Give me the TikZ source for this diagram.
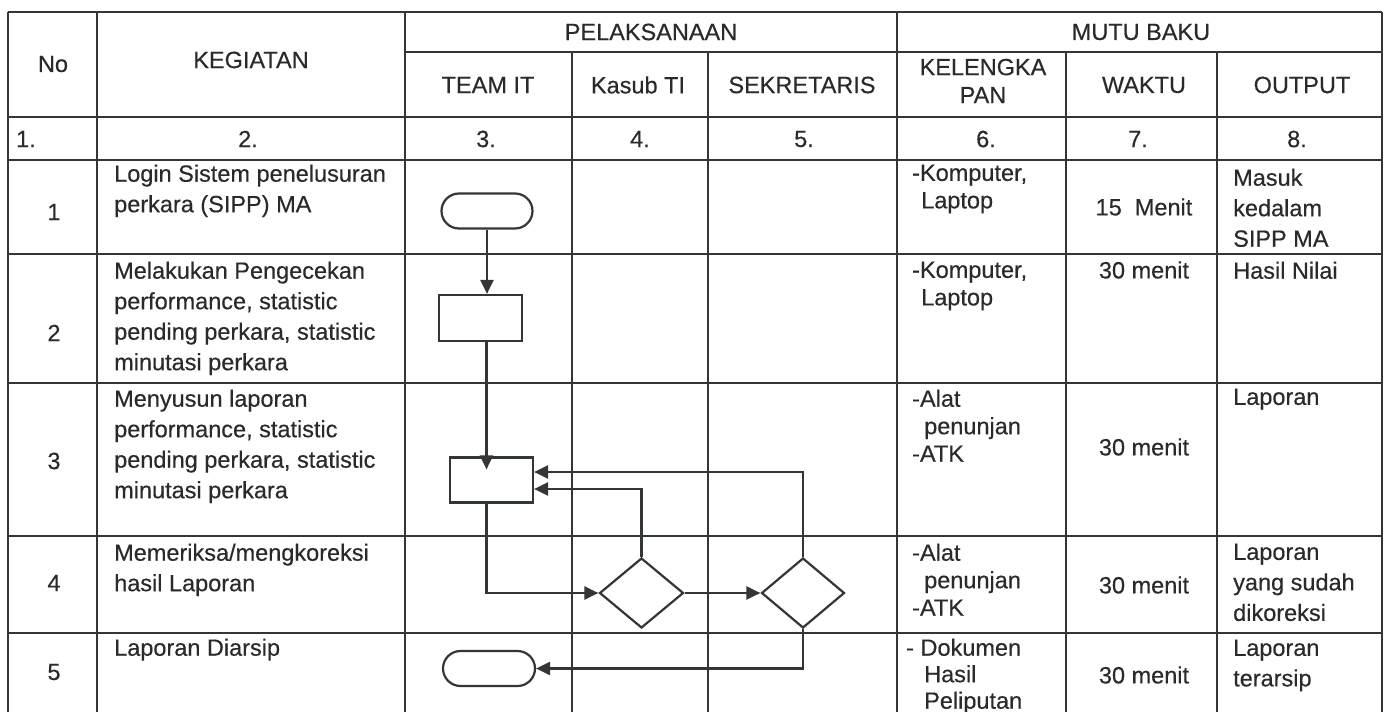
\documentclass[tikz,border=0pt]{standalone}
\usepackage{fontspec}
\setmainfont{Liberation Sans}[FakeBold=0.35]
\usetikzlibrary{arrows.meta,shapes.geometric,shapes.misc,calc}
\definecolor{ink}{HTML}{2A2A2A}
\definecolor{rulec}{HTML}{333733}
\tikzset{
  gridline/.style={draw=rulec, line width=2.2pt},
  fl/.style={draw=rulec, line width=2.2pt, fill=white, inner sep=0pt},
  arr/.style={draw=rulec, line width=2.2pt, -{Triangle[length=14pt,width=13pt]}},
  cell/.style={font=\fontsize{23.5}{30.5}\selectfont, text=ink, inner sep=0pt, anchor=north west, align=left},
  kel/.style={cell, font=\fontsize{23.5}{27.5}\selectfont},
  kelb/.style={cell, font=\fontsize{23.5}{26.5}\selectfont},
  ctr/.style={font=\fontsize{23.5}{28}\selectfont, text=ink, inner sep=0pt, align=center},
  term/.style={fl, rounded rectangle, minimum width=91pt, minimum height=35pt},
  proc/.style={fl, rectangle, minimum width=83pt, minimum height=45pt},
  deci/.style={fl, diamond, minimum width=84pt, minimum height=70pt},
}
\begin{document}
\begin{tikzpicture}[x=1pt,y=-1pt]
\useasboundingbox (0,0) rectangle (1385,712);
\fill[white] (0,0) rectangle (1385,712);

% table grid
\foreach \yy in {12,117,160,254,383,536,633}
  \draw[gridline] (8,\yy) -- (1382,\yy);
\draw[gridline] (405,52) -- (1382,52);
\foreach \xx in {8,97,405,897,1382}
  \draw[gridline] (\xx,12) -- (\xx,712);
\foreach \xx in {572,708,1066,1217}
  \draw[gridline] (\xx,52) -- (\xx,712);

% header
\node[ctr] (hno) at (53,64) {No};
\node[ctr] (hkeg) at (251,60) {KEGIATAN};
\node[ctr] (hpel) at (651,32) {PELAKSANAAN};
\node[ctr] (hmutu) at (1141,32) {MUTU BAKU};
\node[ctr] (hteam) at (488,85) {TEAM IT};
\node[ctr] (hkasub) at (638,85) {Kasub TI};
\node[ctr] (hsek) at (802,85) {SEKRETARIS};
\node[ctr] (hkel) at (983,81) {KELENGKA\\PAN};
\node[ctr] (hwak) at (1144,85) {WAKTU};
\node[ctr] (hout) at (1302,85) {OUTPUT};

% number row
\node[ctr] (n1) at (26,139) {1.};
\node[ctr] (n2) at (248,139) {2.};
\node[ctr] (n3) at (486,139) {3.};
\node[ctr] (n4) at (640,139) {4.};
\node[ctr] (n5) at (804,139) {5.};
\node[ctr] (n6) at (986,139) {6.};
\node[ctr] (n7) at (1138,139) {7.};
\node[ctr] (n8) at (1297,139) {8.};

% row numbers
\node[ctr] (r1) at (54,212) {1};
\node[ctr] (r2) at (54,333) {2};
\node[ctr] (r3) at (54,461) {3};
\node[ctr] (r4) at (54,583) {4};
\node[ctr] (r5) at (54,672) {5};

% kegiatan
\node[cell] (k1) at (114,164.5) {Login Sistem penelusuran\\perkara (SIPP) MA};
\node[cell] (k2) at (114,261.5) {Melakukan Pengecekan\\performance, statistic\\pending perkara, statistic\\minutasi perkara};
\node[cell] (k3) at (114,389.5) {Menyusun laporan\\performance, statistic\\pending perkara, statistic\\minutasi perkara};
\node[cell] (k4) at (114,543.5) {Memeriksa/mengkoreksi\\hasil Laporan};
\node[cell] (k5) at (114,638.5) {Laporan Diarsip};

% kelengkapan
\node[kel] (e1) at (912,164.5) {-Komputer,\\\hspace*{9pt}Laptop};
\node[kel] (e2) at (912,261.5) {-Komputer,\\\hspace*{9pt}Laptop};
\node[kel] (e3) at (912,389.5) {-Alat\\\hspace*{12pt}penunjan\\-ATK};
\node[kel] (e4) at (912,543.5) {-Alat\\\hspace*{12pt}penunjan\\-ATK};
\node[kelb] (e5) at (906,638.5) {- Dokumen\\\hspace*{18pt}Hasil\\\hspace*{18pt}Peliputan};

% waktu
\node[ctr] (w1) at (1144,207) {15~ Menit};
\node[ctr] (w2) at (1144,270) {30 menit};
\node[ctr] (w3) at (1144,447) {30 menit};
\node[ctr] (w4) at (1144,585) {30 menit};
\node[ctr] (w5) at (1144,675) {30 menit};

% output
\node[cell] (o1) at (1233,168.5) {Masuk\\kedalam\\SIPP MA};
\node[cell] (o2) at (1233,261.5) {Hasil Nilai};
\node[cell] (o3) at (1233,388.5) {Laporan};
\node[cell] (o4) at (1233,543.5) {Laporan\\yang sudah\\dikoreksi};
\node[cell] (o5) at (1233,639.5) {Laporan\\terarsip};

% flowchart shapes
\node[term] (t1) at (487,211) {};
\node[proc, minimum height=46pt] (p2) at (480.5,318) {};
\node[proc] (p3) at (491.5,480) {};
\node[deci] (d1) at (641.5,593) {};
\node[deci, minimum width=83pt] (d2) at (803,593) {};
\node[term, minimum width=92pt] (t5) at (489,668.5) {};

% connectors
\draw[arr] (t1.south) -- (t1.south |- p2.north);
\draw[arr] ($(p2.south)+(6,0)$) -- ($(p3.north)+(-5,13)$);
\draw[arr] ($(p3.south)+(-5,0)$) |- (d1.west);
\draw[arr] (d1.east) -- (d2.west);
\draw[arr] (d1.north) |- ($(p3.east)+(0,9)$);
\draw[arr] (d2.north) |- ($(p3.east)+(0,-8)$);
\draw[arr] (d2.south) |- (t5.east);
\end{tikzpicture}
\end{document}
